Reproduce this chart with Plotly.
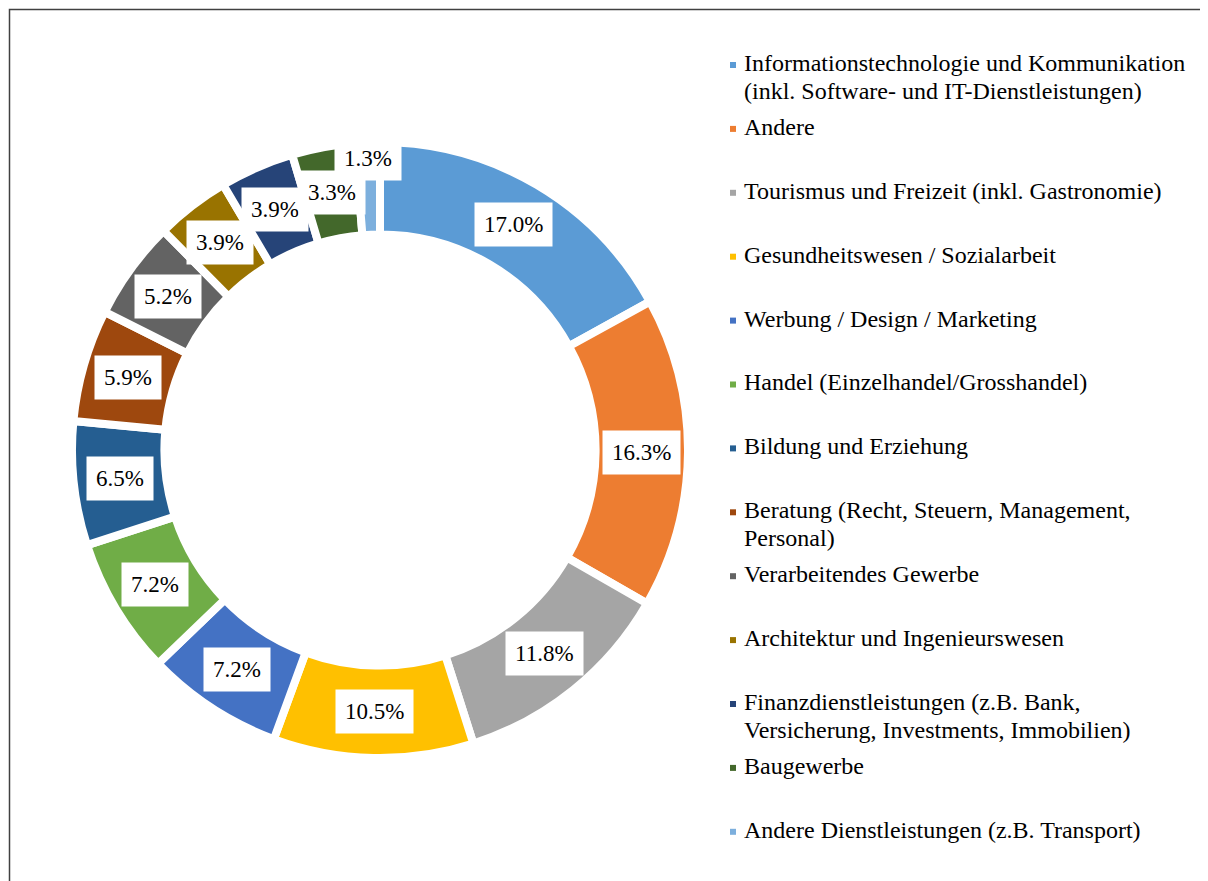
import math
import plotly.graph_objects as go

# ---- data ----
categories = [
    "Informationstechnologie und Kommunikation<br>(inkl. Software- und IT-Dienstleistungen)",
    "Andere",
    "Tourismus und Freizeit (inkl. Gastronomie)",
    "Gesundheitswesen / Sozialarbeit",
    "Werbung / Design / Marketing",
    "Handel (Einzelhandel/Grosshandel)",
    "Bildung und Erziehung",
    "Beratung (Recht, Steuern, Management,<br>Personal)",
    "Verarbeitendes Gewerbe",
    "Architektur und Ingenieurswesen",
    "Finanzdienstleistungen (z.B. Bank,<br>Versicherung, Investments, Immobilien)",
    "Baugewerbe",
    "Andere Dienstleistungen (z.B. Transport)",
]
shares = [17.0, 16.3, 11.8, 10.5, 7.2, 7.2, 6.5, 5.9, 5.2, 3.9, 3.9, 3.3, 1.3]
colors = [
    "#5B9BD5", "#ED7D31", "#A5A5A5", "#FFC000", "#4472C4", "#70AD47",
    "#255E91", "#9E480E", "#636363", "#997300", "#264478", "#43682B", "#7CAFDD",
]

# ---- layout geometry (pixels, window coordinates) ----
W, H = 1208, 881
OFF = 8                    # page body margin
CX, CY = 380, 450          # donut centre
R = 308                    # pie radius (incl. half border)
HOLE = 0.70
FONT = "Liberation Serif, Times New Roman, serif"


def px(x, y):
    return (x - OFF) / W, 1 - (y - OFF) / H


fig = go.Figure()
x0, y0 = px(CX - R, CY + R)
x1, y1 = px(CX + R, CY - R)
fig.add_trace(go.Pie(
    labels=[c.replace("<br>", " ") for c in categories],
    values=shares,
    sort=False,
    direction="clockwise",
    rotation=0,
    hole=HOLE,
    textinfo="none",
    hoverinfo="label+percent",
    marker=dict(colors=colors, line=dict(color="white", width=8)),
    domain=dict(x=[x0, x1], y=[y0, y1]),
    showlegend=False,
))

annotations = []
shapes = []

# data labels in white boxes, placed at slice mid-angles
total = sum(shares)
cum = 0.0
for v in shares:
    mid = (cum + v / 2) / total * 2 * math.pi
    cum += v
    rl = 292 if v < 2 else 262
    ax, ay = px(CX + rl * math.sin(mid), CY - rl * math.cos(mid))
    annotations.append(dict(
        x=ax, y=ay, xref="paper", yref="paper",
        text=f"{v:.1f}%", showarrow=False,
        font=dict(family=FONT, size=23, color="black"),
        bgcolor="white", borderpad=9, xanchor="center", yanchor="middle",
    ))

# manual legend (uniform spacing as in the reference)
LEG_X = 733
LEG_Y0 = 65
LEG_DY = 63.9
LINE_H = 28
for i, (lab, col) in enumerate(zip(categories, colors)):
    yc = LEG_Y0 + i * LEG_DY
    sx0, sy0 = px(LEG_X - 3, yc + 3)
    sx1, sy1 = px(LEG_X + 3, yc - 3)
    shapes.append(dict(type="rect", xref="paper", yref="paper",
                       x0=sx0, x1=sx1, y0=sy0, y1=sy1,
                       fillcolor=col, line=dict(width=0)))
    for k, line in enumerate(lab.split("<br>")):
        tx, ty = px(LEG_X + 10, yc - 2 + k * LINE_H)
        annotations.append(dict(
            x=tx, y=ty, xref="paper", yref="paper",
            text=line, showarrow=False, align="left",
            font=dict(family=FONT, size=24, color="black"),
            xanchor="left", yanchor="middle", borderpad=0,
        ))

# chart frame
fx0, fy1 = px(9.5, 9.5)
shapes.append(dict(type="rect", xref="paper", yref="paper",
                   x0=fx0, x1=1.05, y0=-0.05, y1=fy1,
                   line=dict(color="#404040", width=1.5), fillcolor="rgba(0,0,0,0)"))

fig.update_layout(
    width=W, height=H,
    margin=dict(l=0, r=0, t=0, b=0),
    paper_bgcolor="white", plot_bgcolor="white",
    annotations=annotations, shapes=shapes,
    showlegend=False,
)

fig.write_html("out.html")
